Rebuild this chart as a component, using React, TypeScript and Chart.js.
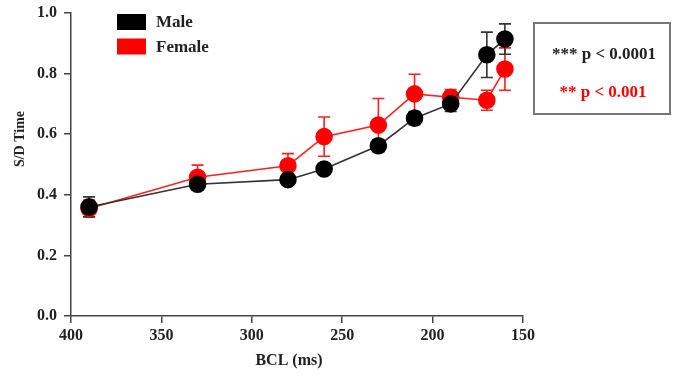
import React, { useEffect, useRef } from "react";
import { Chart, registerables } from "chart.js";

Chart.register(...registerables);

const bcl = [390, 330, 280, 260, 230, 210, 190, 170, 160];
const maleMean = [0.36, 0.435, 0.45, 0.485, 0.562, 0.653, 0.7, 0.862, 0.914];
const maleErr = [0.033, 0.02, 0.012, 0.012, 0.02, 0.022, 0.025, 0.075, 0.05];
const femaleMean = [0.355, 0.458, 0.496, 0.592, 0.63, 0.733, 0.722, 0.712, 0.815];
const femaleErr = [0.028, 0.04, 0.04, 0.065, 0.088, 0.065, 0.025, 0.033, 0.07];
const xTicks = [400, 350, 300, 250, 200, 150];
const yTicks = [0, 0.2, 0.4, 0.6, 0.8, 1.0];
const legendLabels = ["Male", "Female"];
const seriesColors = ["#000000", "#ff0000"];
const lineColors = ["#333333", "#ff2020"];
const pLabels = ["*** p < 0.0001", "** p < 0.001"];

const FONT = '"Liberation Serif", "Times New Roman", serif';

const errorBarPlugin = {
  id: "errorBars",
  beforeDatasetsDraw(chart: any) {
    const { ctx } = chart;
    const xs = chart.scales.x;
    const ys = chart.scales.y;
    const errs = [maleErr, femaleErr];
    const means = [maleMean, femaleMean];
    for (let d = 1; d >= 0; d--) {
      ctx.save();
      ctx.strokeStyle = lineColors[d];
      ctx.lineWidth = 1.6;
      for (let i = 0; i < bcl.length; i++) {
        const x = xs.getPixelForValue(bcl[i]);
        const yTop = ys.getPixelForValue(means[d][i] + errs[d][i]);
        const yBot = ys.getPixelForValue(means[d][i] - errs[d][i]);
        ctx.beginPath();
        ctx.moveTo(x, yTop);
        ctx.lineTo(x, yBot);
        ctx.moveTo(x - 6, yTop);
        ctx.lineTo(x + 6, yTop);
        ctx.moveTo(x - 6, yBot);
        ctx.lineTo(x + 6, yBot);
        ctx.stroke();
      }
      ctx.restore();
    }
  },
};

const decorPlugin = {
  id: "decor",
  afterDraw(chart: any) {
    const { ctx } = chart;
    ctx.save();
    // legend
    ctx.font = `bold 17px ${FONT}`;
    ctx.textBaseline = "middle";
    ctx.textAlign = "left";
    legendLabels.forEach((lab, i) => {
      const y = 22 + i * 24.5;
      ctx.fillStyle = seriesColors[i];
      ctx.fillRect(117, y - 8, 29, 16);
      ctx.fillStyle = "#222";
      ctx.fillText(lab, 156, y + 1);
    });
    // y title
    ctx.save();
    ctx.translate(20, 139);
    ctx.rotate(-Math.PI / 2);
    ctx.textAlign = "center";
    ctx.font = `bold 14px ${FONT}`;
    ctx.fillStyle = "#222";
    ctx.fillText("S/D Time", 0, 0);
    ctx.restore();
    // x title
    ctx.textAlign = "center";
    ctx.font = `bold 16px ${FONT}`;
    ctx.fillStyle = "#222";
    ctx.fillText("BCL (ms)", 289, 361);
    // p-value box
    ctx.strokeStyle = "#777";
    ctx.lineWidth = 2;
    ctx.strokeRect(534, 23, 136, 91);
    ctx.font = `bold 17px ${FONT}`;
    ctx.fillStyle = "#222";
    ctx.fillText(pLabels[0], 604, 55);
    ctx.fillStyle = "#ff0000";
    ctx.fillText(pLabels[1], 603, 93);
    ctx.restore();
  },
};

export default function App() {
  const ref = useRef<HTMLCanvasElement>(null);
  useEffect(() => {
    if (!ref.current) return;
    const chart = new Chart(ref.current, {
      type: "line",
      data: {
        datasets: [
          {
            label: legendLabels[0],
            data: bcl.map((x, i) => ({ x, y: maleMean[i] })),
            borderColor: lineColors[0],
            backgroundColor: seriesColors[0],
            pointBackgroundColor: seriesColors[0],
            pointBorderColor: seriesColors[0],
            pointRadius: 8,
            borderWidth: 1.6,
          },
          {
            label: legendLabels[1],
            data: bcl.map((x, i) => ({ x, y: femaleMean[i] })),
            borderColor: lineColors[1],
            backgroundColor: seriesColors[1],
            pointBackgroundColor: seriesColors[1],
            pointBorderColor: seriesColors[1],
            pointRadius: 8,
            borderWidth: 1.6,
          },
        ],
      },
      options: {
        responsive: false,
        animation: false,
        layout: { padding: { left: 0, right: 154, top: 13, bottom: 0 } },
        plugins: { legend: { display: false }, tooltip: { enabled: false } },
        scales: {
          x: {
            type: "linear",
            reverse: true,
            min: 150,
            max: 400,
            afterBuildTicks: (s: any) => {
              s.ticks = xTicks.map((v) => ({ value: v }));
            },
            afterFit: (s: any) => {
              s.height = 61;
              s.paddingLeft = 0;
              s.paddingRight = 0;
            },
            grid: { drawOnChartArea: false, tickLength: 7, color: "#444", lineWidth: 1.5 },
            border: { color: "#444", width: 1.5 },
            ticks: {
              color: "#222",
              padding: 3,
              font: { family: FONT, size: 16, weight: "bold" },
            },
          },
          y: {
            type: "linear",
            min: 0,
            max: 1,
            afterBuildTicks: (s: any) => {
              s.ticks = yTicks.map((v) => ({ value: v }));
            },
            afterFit: (s: any) => {
              s.width = 71;
              s.paddingTop = 0;
              s.paddingBottom = 0;
            },
            grid: { drawOnChartArea: false, tickLength: 7, color: "#444", lineWidth: 1.5 },
            border: { color: "#444", width: 1.5 },
            ticks: {
              color: "#222",
              padding: 7,
              font: { family: FONT, size: 16, weight: "bold" },
              callback: (v: any) => Number(v).toFixed(1),
            },
          },
        },
      },
      plugins: [errorBarPlugin, decorPlugin],
    });
    return () => chart.destroy();
  }, []);
  return (
    <div style={{ position: "fixed", left: 0, top: 0, width: 677, height: 377, background: "#fff" }}>
      <canvas ref={ref} width={677} height={377} />
    </div>
  );
}
